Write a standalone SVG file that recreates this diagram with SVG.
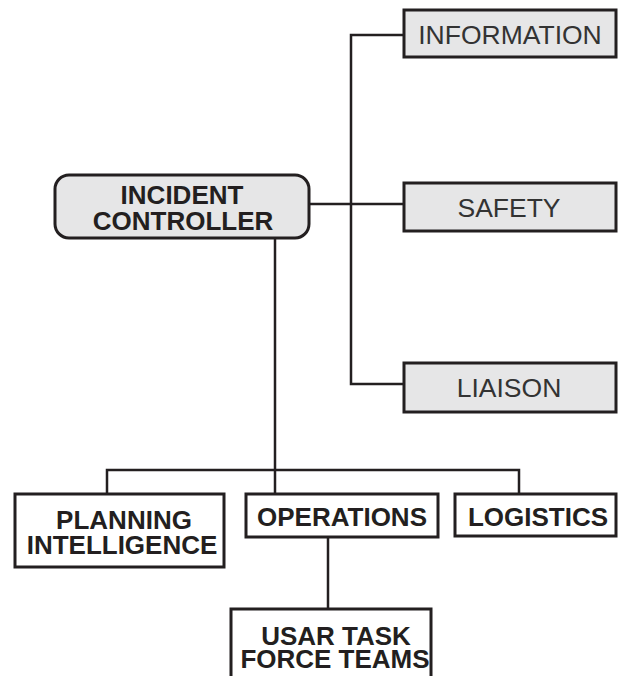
<svg xmlns="http://www.w3.org/2000/svg" width="623" height="676" viewBox="0 0 623 676">
<style>
.box{fill:#ffffff;stroke:#231f20;stroke-width:3}
.gbox{fill:#e6e6e7;stroke:#231f20;stroke-width:3}
.b{font-family:"Liberation Sans",Arial,sans-serif;font-weight:bold;font-size:26px;fill:#231f20;text-anchor:middle}
.r{font-family:"Liberation Sans",Arial,sans-serif;font-size:26.5px;fill:#333333;text-anchor:middle}
.c{fill:none;stroke:#231f20;stroke-width:2.5}
</style>
<rect width="623" height="676" fill="#ffffff"/>
<g id="connectors">
<path class="c" d="M309,204 H404"/>
<path class="c" d="M404,35 H351 V384 H404"/>
<path class="c" d="M275,238 V494"/>
<path class="c" d="M107,494 V470 H519 V494"/>
<path class="c" d="M328,537 V609"/>
</g>
<g id="controller">
<rect class="gbox" x="55" y="175" width="254" height="63" rx="14"/>
<text class="b" x="182" y="204">INCIDENT</text>
<text class="b" x="183" y="230">CONTROLLER</text>
</g>
<g id="information">
<rect class="gbox" x="404" y="10" width="212" height="47"/>
<text class="r" x="510" y="44">INFORMATION</text>
</g>
<g id="safety">
<rect class="gbox" x="404" y="183" width="212" height="48"/>
<text class="r" x="509" y="217">SAFETY</text>
</g>
<g id="liaison">
<rect class="gbox" x="404" y="363" width="212" height="49"/>
<text class="r" x="509" y="397">LIAISON</text>
</g>
<g id="planning">
<rect class="box" x="15" y="494" width="209" height="73"/>
<text class="b" x="124" y="529">PLANNING</text>
<text class="b" x="122" y="554">INTELLIGENCE</text>
</g>
<g id="operations">
<rect class="box" x="246" y="494" width="192" height="43"/>
<text class="b" x="342" y="526">OPERATIONS</text>
</g>
<g id="logistics">
<rect class="box" x="455" y="494" width="161" height="42"/>
<text class="b" x="538" y="526">LOGISTICS</text>
</g>
<g id="usar">
<rect class="box" x="231" y="609" width="200" height="80"/>
<text class="b" x="336" y="645">USAR TASK</text>
<text class="b" x="335" y="668">FORCE TEAMS</text>
</g>
</svg>
